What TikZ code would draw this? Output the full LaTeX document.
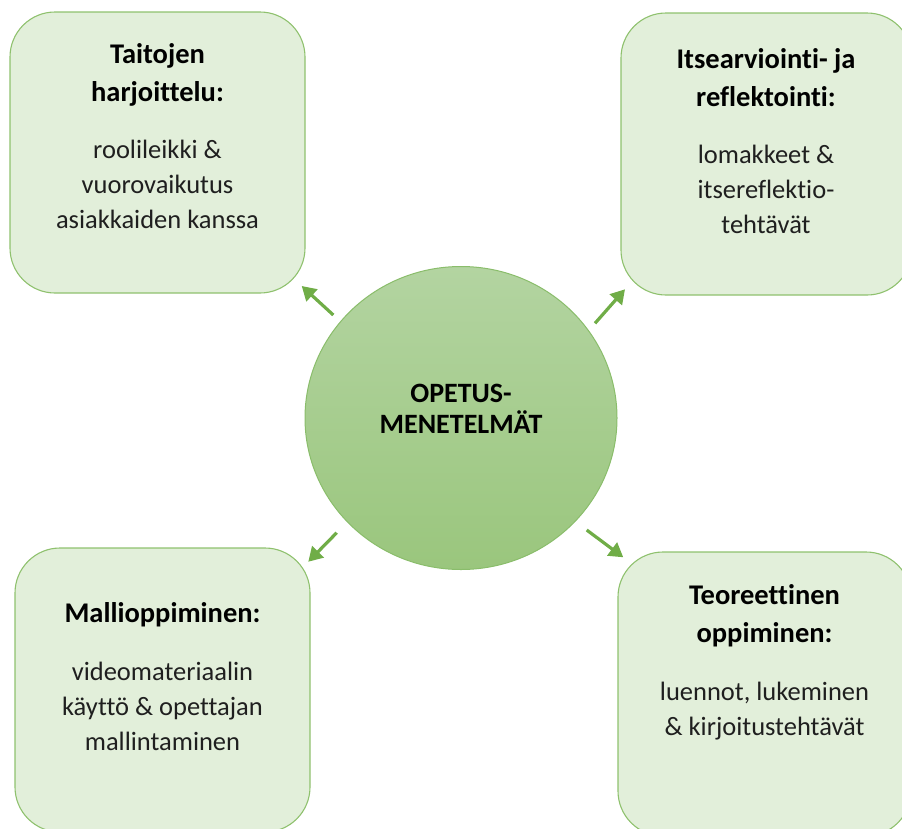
\documentclass[tikz,border=0pt]{standalone}
\usepackage{fontspec}
\setmainfont[Ligatures=NoCommon]{Carlito}
\usetikzlibrary{shapes.geometric,arrows.meta}
\definecolor{boxfill}{HTML}{E2EFDA}
\definecolor{boxline}{HTML}{8FC16E}
\definecolor{circtop}{HTML}{B3D4A1}
\definecolor{circbot}{HTML}{9AC67D}
\definecolor{circline}{HTML}{8ABD6B}
\definecolor{arrowgreen}{HTML}{70AD47}
\definecolor{bodytext}{HTML}{1F1F1F}
\tikzset{
  methodbox/.style={draw=boxline, line width=1.1pt, fill=boxfill, rounded corners=45pt, inner sep=0pt},
  titletext/.style={anchor=base, align=center, inner sep=0pt, font=\fontsize{28.5}{38}\selectfont\bfseries, text=black},
  bodytxt/.style={anchor=base, align=center, inner sep=0pt, font=\fontsize{26.5}{35}\selectfont, text=bodytext},
  centertext/.style={anchor=base, align=center, inner sep=0pt, font=\fontsize{28}{31}\selectfont\bfseries, text=black},
  greenarrow/.style={draw=arrowgreen, line width=3.2pt, -{Triangle[length=14pt,width=16pt]}}
}
\begin{document}
\begin{tikzpicture}[x=1pt,y=-1pt]
\useasboundingbox (0,0) rectangle (902,828);
% boxes
\node[methodbox, minimum width=295pt, minimum height=281pt] (tl) at (157.5,152.5) {};
\node[methodbox, minimum width=291pt, minimum height=282pt] (tr) at (766.5,154) {};
\node[methodbox, minimum width=295pt, minimum height=284pt] (bl) at (162.5,690) {};
\node[methodbox, minimum width=293pt, minimum height=284pt] (br) at (764.5,694) {};
% centre
\node[ellipse, minimum width=312pt, minimum height=303pt, draw=circline, line width=1pt,
      top color=circtop, bottom color=circbot, inner sep=0pt] (c) at (461,418) {};
\node[centertext] (ct) at (461,433) {OPETUS-\\MENETELMÄT};
% texts (anchor = baseline of last line)
\node[titletext] (tlt) at (157.5,101.5) {Taitojen\\harjoittelu:};
\node[bodytxt] (tlb) at (157.5,228) {roolileikki \&\\vuorovaikutus\\asiakkaiden kanssa};
\node[titletext] (trt) at (766,106) {Itsearviointi- ja\\reflektointi:};
\node[bodytxt] (trb) at (766,233) {lomakkeet \&\\itsereflektio-\\tehtävät};
\node[titletext] (blt) at (162.5,622) {Mallioppiminen:};
\node[bodytxt] (blb) at (162.5,750) {videomateriaalin\\käyttö \& opettajan\\mallintaminen};
\node[titletext] (brt) at (764.5,642) {Teoreettinen\\oppiminen:};
\node[bodytxt] (brb) at (764.5,735) {luennot, lukeminen\\\& kirjoitustehtävät};
% arrows
\coordinate (a1s) at (333.3,315);
\coordinate (a1e) at (301.7,286);
\coordinate (a2s) at (595,323.3);
\coordinate (a2e) at (625,289.3);
\coordinate (a3s) at (336.7,532.7);
\coordinate (a3e) at (308.3,561.7);
\coordinate (a4s) at (586.7,530);
\coordinate (a4e) at (623.3,557.3);
\draw[greenarrow] (a1s) -- (a1e);
\draw[greenarrow] (a2s) -- (a2e);
\draw[greenarrow] (a3s) -- (a3e);
\draw[greenarrow] (a4s) -- (a4e);
\end{tikzpicture}
\end{document}
